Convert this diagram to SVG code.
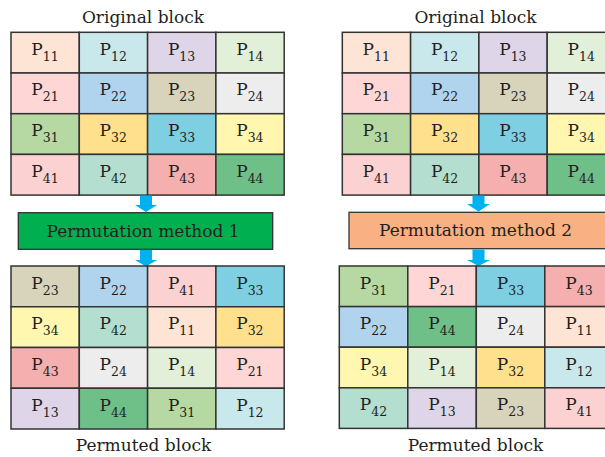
<svg xmlns="http://www.w3.org/2000/svg" width="605" height="457" viewBox="0 0 605 457">
  <style>
    .cell { stroke: #333333; stroke-width: 1.5; }
    .lbl { font-family: 'DejaVu Serif', 'Liberation Serif', serif; font-size: 17px; fill: #231f20; text-anchor: middle; }
    .sub { font-size: 12.5px; }
    .title { font-family: 'DejaVu Serif', 'Liberation Serif', serif; font-size: 17px; fill: #231f20; text-anchor: middle; }
    .box { stroke: #333333; stroke-width: 1.3; }
    .arrow { fill: #00b0f0; }
    .c11 { fill: #fde4d4; } .c12 { fill: #c9e8ec; } .c13 { fill: #ded6e8; } .c14 { fill: #e2efd9; }
    .c21 { fill: #fdd6d5; } .c22 { fill: #b0d4ee; } .c23 { fill: #d8d3bb; } .c24 { fill: #ededed; }
    .c31 { fill: #b6d9a3; } .c32 { fill: #fee08d; } .c33 { fill: #7fcfe3; } .c34 { fill: #fff6b0; }
    .c41 { fill: #fcd1d1; } .c42 { fill: #b4dfd0; } .c43 { fill: #f5afae; } .c44 { fill: #6ebf88; }
  </style>

  <!-- Titles -->
  <g id="title-original-1"><text class="title" x="143" y="23">Original block</text></g>
  <g id="title-original-2"><text class="title" x="475.5" y="23">Original block</text></g>
  <g id="title-permuted-1"><text class="title" x="143.5" y="451">Permuted block</text></g>
  <g id="title-permuted-2"><text class="title" x="475.5" y="451">Permuted block</text></g>

  <!-- Original block, left -->
  <g id="original-block-1" transform="translate(11,32.3)">
    <rect class="cell c11" x="0" y="0" width="68.3" height="40.7"/>
    <rect class="cell c12" x="68.3" y="0" width="68.3" height="40.7"/>
    <rect class="cell c13" x="136.6" y="0" width="68.3" height="40.7"/>
    <rect class="cell c14" x="204.9" y="0" width="68.3" height="40.7"/>
    <rect class="cell c21" x="0" y="40.7" width="68.3" height="40.7"/>
    <rect class="cell c22" x="68.3" y="40.7" width="68.3" height="40.7"/>
    <rect class="cell c23" x="136.6" y="40.7" width="68.3" height="40.7"/>
    <rect class="cell c24" x="204.9" y="40.7" width="68.3" height="40.7"/>
    <rect class="cell c31" x="0" y="81.4" width="68.3" height="40.7"/>
    <rect class="cell c32" x="68.3" y="81.4" width="68.3" height="40.7"/>
    <rect class="cell c33" x="136.6" y="81.4" width="68.3" height="40.7"/>
    <rect class="cell c34" x="204.9" y="81.4" width="68.3" height="40.7"/>
    <rect class="cell c41" x="0" y="122.1" width="68.3" height="40.7"/>
    <rect class="cell c42" x="68.3" y="122.1" width="68.3" height="40.7"/>
    <rect class="cell c43" x="136.6" y="122.1" width="68.3" height="40.7"/>
    <rect class="cell c44" x="204.9" y="122.1" width="68.3" height="40.7"/>
    <text class="lbl" x="34" y="22.5">P<tspan class="sub" dy="6">11</tspan></text>
    <text class="lbl" x="102.3" y="22.5">P<tspan class="sub" dy="6">12</tspan></text>
    <text class="lbl" x="170.6" y="22.5">P<tspan class="sub" dy="6">13</tspan></text>
    <text class="lbl" x="238.9" y="22.5">P<tspan class="sub" dy="6">14</tspan></text>
    <text class="lbl" x="34" y="63.2">P<tspan class="sub" dy="6">21</tspan></text>
    <text class="lbl" x="102.3" y="63.2">P<tspan class="sub" dy="6">22</tspan></text>
    <text class="lbl" x="170.6" y="63.2">P<tspan class="sub" dy="6">23</tspan></text>
    <text class="lbl" x="238.9" y="63.2">P<tspan class="sub" dy="6">24</tspan></text>
    <text class="lbl" x="34" y="103.9">P<tspan class="sub" dy="6">31</tspan></text>
    <text class="lbl" x="102.3" y="103.9">P<tspan class="sub" dy="6">32</tspan></text>
    <text class="lbl" x="170.6" y="103.9">P<tspan class="sub" dy="6">33</tspan></text>
    <text class="lbl" x="238.9" y="103.9">P<tspan class="sub" dy="6">34</tspan></text>
    <text class="lbl" x="34" y="144.6">P<tspan class="sub" dy="6">41</tspan></text>
    <text class="lbl" x="102.3" y="144.6">P<tspan class="sub" dy="6">42</tspan></text>
    <text class="lbl" x="170.6" y="144.6">P<tspan class="sub" dy="6">43</tspan></text>
    <text class="lbl" x="238.9" y="144.6">P<tspan class="sub" dy="6">44</tspan></text>
  </g>

  <!-- Original block, right -->
  <g id="original-block-2" transform="translate(342.3,32.3)">
    <rect class="cell c11" x="0" y="0" width="68.3" height="40.7"/>
    <rect class="cell c12" x="68.3" y="0" width="68.3" height="40.7"/>
    <rect class="cell c13" x="136.6" y="0" width="68.3" height="40.7"/>
    <rect class="cell c14" x="204.9" y="0" width="68.3" height="40.7"/>
    <rect class="cell c21" x="0" y="40.7" width="68.3" height="40.7"/>
    <rect class="cell c22" x="68.3" y="40.7" width="68.3" height="40.7"/>
    <rect class="cell c23" x="136.6" y="40.7" width="68.3" height="40.7"/>
    <rect class="cell c24" x="204.9" y="40.7" width="68.3" height="40.7"/>
    <rect class="cell c31" x="0" y="81.4" width="68.3" height="40.7"/>
    <rect class="cell c32" x="68.3" y="81.4" width="68.3" height="40.7"/>
    <rect class="cell c33" x="136.6" y="81.4" width="68.3" height="40.7"/>
    <rect class="cell c34" x="204.9" y="81.4" width="68.3" height="40.7"/>
    <rect class="cell c41" x="0" y="122.1" width="68.3" height="40.7"/>
    <rect class="cell c42" x="68.3" y="122.1" width="68.3" height="40.7"/>
    <rect class="cell c43" x="136.6" y="122.1" width="68.3" height="40.7"/>
    <rect class="cell c44" x="204.9" y="122.1" width="68.3" height="40.7"/>
    <text class="lbl" x="34" y="22.5">P<tspan class="sub" dy="6">11</tspan></text>
    <text class="lbl" x="102.3" y="22.5">P<tspan class="sub" dy="6">12</tspan></text>
    <text class="lbl" x="170.6" y="22.5">P<tspan class="sub" dy="6">13</tspan></text>
    <text class="lbl" x="238.9" y="22.5">P<tspan class="sub" dy="6">14</tspan></text>
    <text class="lbl" x="34" y="63.2">P<tspan class="sub" dy="6">21</tspan></text>
    <text class="lbl" x="102.3" y="63.2">P<tspan class="sub" dy="6">22</tspan></text>
    <text class="lbl" x="170.6" y="63.2">P<tspan class="sub" dy="6">23</tspan></text>
    <text class="lbl" x="238.9" y="63.2">P<tspan class="sub" dy="6">24</tspan></text>
    <text class="lbl" x="34" y="103.9">P<tspan class="sub" dy="6">31</tspan></text>
    <text class="lbl" x="102.3" y="103.9">P<tspan class="sub" dy="6">32</tspan></text>
    <text class="lbl" x="170.6" y="103.9">P<tspan class="sub" dy="6">33</tspan></text>
    <text class="lbl" x="238.9" y="103.9">P<tspan class="sub" dy="6">34</tspan></text>
    <text class="lbl" x="34" y="144.6">P<tspan class="sub" dy="6">41</tspan></text>
    <text class="lbl" x="102.3" y="144.6">P<tspan class="sub" dy="6">42</tspan></text>
    <text class="lbl" x="170.6" y="144.6">P<tspan class="sub" dy="6">43</tspan></text>
    <text class="lbl" x="238.9" y="144.6">P<tspan class="sub" dy="6">44</tspan></text>
  </g>

  <!-- Permutation steps -->
  <g id="method-1">
    <rect class="box" x="18.3" y="212.7" width="254.4" height="36.6" fill="#00b050"/>
    <text class="title" x="143" y="236.5">Permutation method 1</text>
  </g>
  <g id="method-2">
    <rect class="box" x="349" y="212.3" width="262" height="36.4" fill="#f9b183"/>
    <text class="title" x="475.5" y="236">Permutation method 2</text>
  </g>

  <!-- Connectors -->
  <g id="connectors">
    <polygon class="arrow" points="140,195.5 152,195.5 152,205 157,205 146,212 135,205 140,205"/>
    <polygon class="arrow" points="140,250 152,250 152,260 157,260 146,266.5 135,260 140,260"/>
    <polygon class="arrow" points="472.5,195.5 484.5,195.5 484.5,204 490,204 478.5,211.5 467,204 472.5,204"/>
    <polygon class="arrow" points="472.5,249.5 484.5,249.5 484.5,260 490,260 478.5,266 467,260 472.5,260"/>
  </g>

  <!-- Permuted block, left -->
  <g id="permuted-block-1" transform="translate(11,266)">
    <rect class="cell c23" x="0" y="0" width="68.3" height="40.75"/>
    <rect class="cell c22" x="68.3" y="0" width="68.3" height="40.75"/>
    <rect class="cell c41" x="136.6" y="0" width="68.3" height="40.75"/>
    <rect class="cell c33" x="204.9" y="0" width="68.3" height="40.75"/>
    <rect class="cell c34" x="0" y="40.75" width="68.3" height="40.75"/>
    <rect class="cell c42" x="68.3" y="40.75" width="68.3" height="40.75"/>
    <rect class="cell c11" x="136.6" y="40.75" width="68.3" height="40.75"/>
    <rect class="cell c32" x="204.9" y="40.75" width="68.3" height="40.75"/>
    <rect class="cell c43" x="0" y="81.5" width="68.3" height="40.75"/>
    <rect class="cell c24" x="68.3" y="81.5" width="68.3" height="40.75"/>
    <rect class="cell c14" x="136.6" y="81.5" width="68.3" height="40.75"/>
    <rect class="cell c21" x="204.9" y="81.5" width="68.3" height="40.75"/>
    <rect class="cell c13" x="0" y="122.25" width="68.3" height="40.75"/>
    <rect class="cell c44" x="68.3" y="122.25" width="68.3" height="40.75"/>
    <rect class="cell c31" x="136.6" y="122.25" width="68.3" height="40.75"/>
    <rect class="cell c12" x="204.9" y="122.25" width="68.3" height="40.75"/>
    <text class="lbl" x="34" y="22.5">P<tspan class="sub" dy="6">23</tspan></text>
    <text class="lbl" x="102.3" y="22.5">P<tspan class="sub" dy="6">22</tspan></text>
    <text class="lbl" x="170.6" y="22.5">P<tspan class="sub" dy="6">41</tspan></text>
    <text class="lbl" x="238.9" y="22.5">P<tspan class="sub" dy="6">33</tspan></text>
    <text class="lbl" x="34" y="63.25">P<tspan class="sub" dy="6">34</tspan></text>
    <text class="lbl" x="102.3" y="63.25">P<tspan class="sub" dy="6">42</tspan></text>
    <text class="lbl" x="170.6" y="63.25">P<tspan class="sub" dy="6">11</tspan></text>
    <text class="lbl" x="238.9" y="63.25">P<tspan class="sub" dy="6">32</tspan></text>
    <text class="lbl" x="34" y="104">P<tspan class="sub" dy="6">43</tspan></text>
    <text class="lbl" x="102.3" y="104">P<tspan class="sub" dy="6">24</tspan></text>
    <text class="lbl" x="170.6" y="104">P<tspan class="sub" dy="6">14</tspan></text>
    <text class="lbl" x="238.9" y="104">P<tspan class="sub" dy="6">21</tspan></text>
    <text class="lbl" x="34" y="144.75">P<tspan class="sub" dy="6">13</tspan></text>
    <text class="lbl" x="102.3" y="144.75">P<tspan class="sub" dy="6">44</tspan></text>
    <text class="lbl" x="170.6" y="144.75">P<tspan class="sub" dy="6">31</tspan></text>
    <text class="lbl" x="238.9" y="144.75">P<tspan class="sub" dy="6">12</tspan></text>
  </g>

  <!-- Permuted block, right -->
  <g id="permuted-block-2" transform="translate(339.3,266)">
    <rect class="cell c31" x="0" y="0" width="68.5" height="40.6"/>
    <rect class="cell c21" x="68.5" y="0" width="68.5" height="40.6"/>
    <rect class="cell c33" x="137" y="0" width="68.5" height="40.6"/>
    <rect class="cell c43" x="205.5" y="0" width="68.5" height="40.6"/>
    <rect class="cell c22" x="0" y="40.6" width="68.5" height="40.6"/>
    <rect class="cell c44" x="68.5" y="40.6" width="68.5" height="40.6"/>
    <rect class="cell c24" x="137" y="40.6" width="68.5" height="40.6"/>
    <rect class="cell c11" x="205.5" y="40.6" width="68.5" height="40.6"/>
    <rect class="cell c34" x="0" y="81.2" width="68.5" height="40.6"/>
    <rect class="cell c14" x="68.5" y="81.2" width="68.5" height="40.6"/>
    <rect class="cell c32" x="137" y="81.2" width="68.5" height="40.6"/>
    <rect class="cell c12" x="205.5" y="81.2" width="68.5" height="40.6"/>
    <rect class="cell c42" x="0" y="121.8" width="68.5" height="40.6"/>
    <rect class="cell c13" x="68.5" y="121.8" width="68.5" height="40.6"/>
    <rect class="cell c23" x="137" y="121.8" width="68.5" height="40.6"/>
    <rect class="cell c41" x="205.5" y="121.8" width="68.5" height="40.6"/>
    <text class="lbl" x="34.2" y="22.5">P<tspan class="sub" dy="6">31</tspan></text>
    <text class="lbl" x="102.7" y="22.5">P<tspan class="sub" dy="6">21</tspan></text>
    <text class="lbl" x="171.2" y="22.5">P<tspan class="sub" dy="6">33</tspan></text>
    <text class="lbl" x="239.7" y="22.5">P<tspan class="sub" dy="6">43</tspan></text>
    <text class="lbl" x="34.2" y="63.1">P<tspan class="sub" dy="6">22</tspan></text>
    <text class="lbl" x="102.7" y="63.1">P<tspan class="sub" dy="6">44</tspan></text>
    <text class="lbl" x="171.2" y="63.1">P<tspan class="sub" dy="6">24</tspan></text>
    <text class="lbl" x="239.7" y="63.1">P<tspan class="sub" dy="6">11</tspan></text>
    <text class="lbl" x="34.2" y="103.7">P<tspan class="sub" dy="6">34</tspan></text>
    <text class="lbl" x="102.7" y="103.7">P<tspan class="sub" dy="6">14</tspan></text>
    <text class="lbl" x="171.2" y="103.7">P<tspan class="sub" dy="6">32</tspan></text>
    <text class="lbl" x="239.7" y="103.7">P<tspan class="sub" dy="6">12</tspan></text>
    <text class="lbl" x="34.2" y="144.3">P<tspan class="sub" dy="6">42</tspan></text>
    <text class="lbl" x="102.7" y="144.3">P<tspan class="sub" dy="6">13</tspan></text>
    <text class="lbl" x="171.2" y="144.3">P<tspan class="sub" dy="6">23</tspan></text>
    <text class="lbl" x="239.7" y="144.3">P<tspan class="sub" dy="6">41</tspan></text>
  </g>
</svg>
